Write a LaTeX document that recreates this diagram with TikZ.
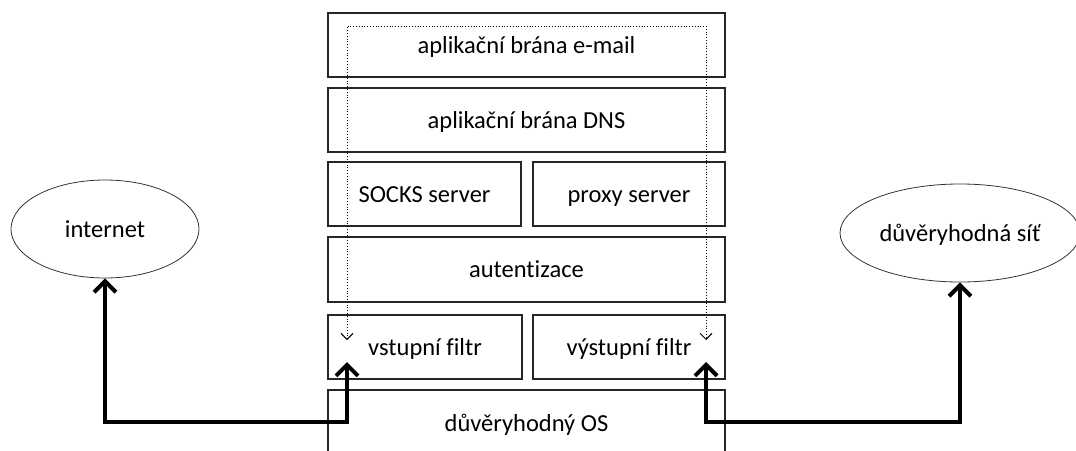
\documentclass[tikz,border=0pt]{standalone}
\usepackage{fontspec}
\setmainfont{Carlito}[Ligatures=NoCommon]
\usetikzlibrary{arrows.meta,shapes.geometric}
\begin{document}
\begin{tikzpicture}[x=1pt,y=-1pt,
  lbl/.style={font=\fontsize{24.5}{29}\selectfont, text height=21pt, text depth=5pt},
  box/.style={lbl, draw=black!85, line width=1.3pt, rectangle, inner sep=0pt},
  wide/.style={box, minimum width=397pt, minimum height=64pt},
  half/.style={box, minimum height=64pt},
  cloud/.style={lbl, draw=black!80, line width=0.8pt, ellipse, inner sep=0pt},
  big/.style={line width=4pt, {Straight Barb[length=11pt,width=22pt]}-{Straight Barb[length=11pt,width=22pt]}},
  dotarrow/.style={line width=0.8pt, dotted, {Straight Barb[length=6pt,width=12pt,line width=0.9pt]}-{Straight Barb[length=6pt,width=12pt,line width=0.9pt]}}
]
\useasboundingbox (0,0) rectangle (1076,450);
\clip (0,0) rectangle (1076,450);

\node[wide] (email) at (526.5,45) {aplikační brána e-mail};
\node[wide] (dns) at (526.5,120) {aplikační brána DNS};
\node[half, minimum width=193pt] (socks) at (424.5,194) {SOCKS server};
\node[half, minimum width=192pt] (proxy) at (629,194) {proxy server};
\node[wide, minimum height=65pt] (auth) at (526.5,269.5) {autentizace};
\node[half, minimum width=194pt] (vin) at (425,347) {vstupní filtr};
\node[half, minimum width=192pt] (vout) at (629,347) {výstupní filtr};
\node[wide, minimum height=66pt] (os) at (526.5,423) {důvěryhodný OS};

\node[cloud, minimum width=188pt, minimum height=98pt] (inet) at (105,229) {internet};
\node[cloud, minimum width=240pt, minimum height=98pt] (trust) at (960,233) {důvěryhodná síť};

% dotted path through the gateway
\coordinate (dL) at (347,340);
\coordinate (dR) at (706,340);
\coordinate (dTL) at (347,26);
\coordinate (dTR) at (706,26);
\draw[dotarrow] (dL) -- (dTL) -- (dTR) -- (dR);

% thick connections
\coordinate (inTip) at (347,362);
\coordinate (outTip) at (706,362);
\draw[big] (inTip) -- ++(0,60) -| (inet.south);
\draw[big] (outTip) -- ++(0,60) -| (trust.south);
\end{tikzpicture}
\end{document}
